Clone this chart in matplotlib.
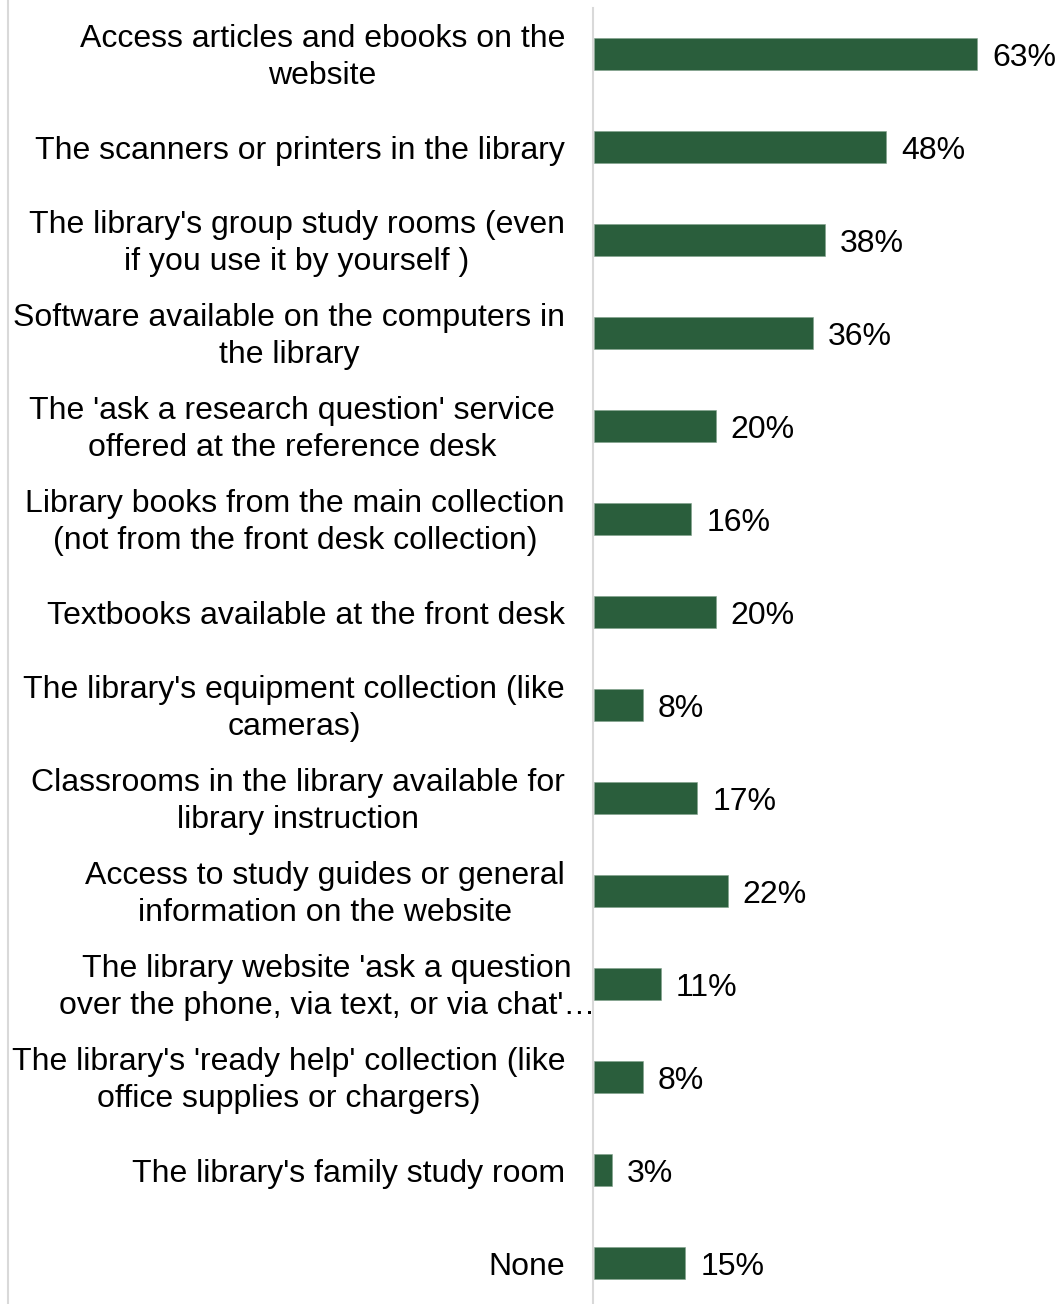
import matplotlib.pyplot as plt
from matplotlib.lines import Line2D
from matplotlib.transforms import ScaledTranslation
import numpy as np

plt.rcParams["font.family"] = ["Liberation Sans", "DejaVu Sans"]

# Survey answers, top to bottom
labels = [
    "Access articles and ebooks on the\nwebsite",
    "The scanners or printers in the library",
    "The library's group study rooms (even\nif you use it by yourself )",
    "Software available on the computers in\nthe library",
    "The 'ask a research question' service\noffered at the reference desk",
    "Library books from the main collection\n(not from the front desk collection)",
    "Textbooks available at the front desk",
    "The library's equipment collection (like\ncameras)",
    "Classrooms in the library available for\nlibrary instruction",
    "Access to study guides or general\ninformation on the website",
    "The library website 'ask a question\nover the phone, via text, or via chat'\u2026",
    "The library's 'ready help' collection (like\noffice supplies or chargers)",
    "The library's family study room",
    "None",
]
values = [63, 48, 38, 36, 20, 16, 20, 8, 17, 22, 11, 8, 3, 15]

BAR_COLOR = "#2a5e3c"
GRID_GRAY = "#d9d9d9"
FS = 23

W, H = 1062, 1304
fig = plt.figure(figsize=(W / 100, H / 100), dpi=100)

# axes: left edge at the vertical axis line, bands of 93 px per bar
left_px, right_px = 593, 1050
top_px, bottom_px = 7.5, 1309.5
ax = fig.add_axes([
    left_px / W,
    (H - bottom_px) / H,
    (right_px - left_px) / W,
    (bottom_px - top_px) / H,
])

n = len(values)
y = np.arange(n)
ax.barh(y, values, height=0.35, color=BAR_COLOR, edgecolor="#7fa08a",
        linewidth=0.4, left=0.15)
ax.set_ylim(n - 0.5, -0.5)
ax.set_xlim(0, (right_px - left_px) / 6.08)

for spine in ["top", "right", "bottom"]:
    ax.spines[spine].set_visible(False)
ax.spines["left"].set_color(GRID_GRAY)
ax.spines["left"].set_linewidth(1.5)
ax.set_xticks([])
ax.set_yticks([])

# category labels, right aligned left of the axis line
for i, lab in enumerate(labels):
    dx = -28
    if lab.endswith("\u2026"):
        dx = 2  # truncated label runs up to the axis line
    elif lab.startswith("The 'ask"):
        dx = -38
    tr = ax.get_yaxis_transform() + ScaledTranslation(dx / 100, -3.5 / 100, fig.dpi_scale_trans)
    ax.text(0, i, lab, transform=tr, ha="right", va="center",
            multialignment="center", fontsize=FS, color="black",
            linespacing=1.27, clip_on=False)

# value labels
for i, v in enumerate(values):
    ax.annotate(f"{v}%", (v, i), xytext=(16, -4), textcoords="offset pixels",
                ha="left", va="center", fontsize=FS, color="black",
                annotation_clip=False)

# thin frame line at the far left
fig.add_artist(Line2D([7.5 / W, 7.5 / W], [0, 1], color=GRID_GRAY,
                      linewidth=1.5, transform=fig.transFigure))

fig.savefig("out.png", dpi=100)
